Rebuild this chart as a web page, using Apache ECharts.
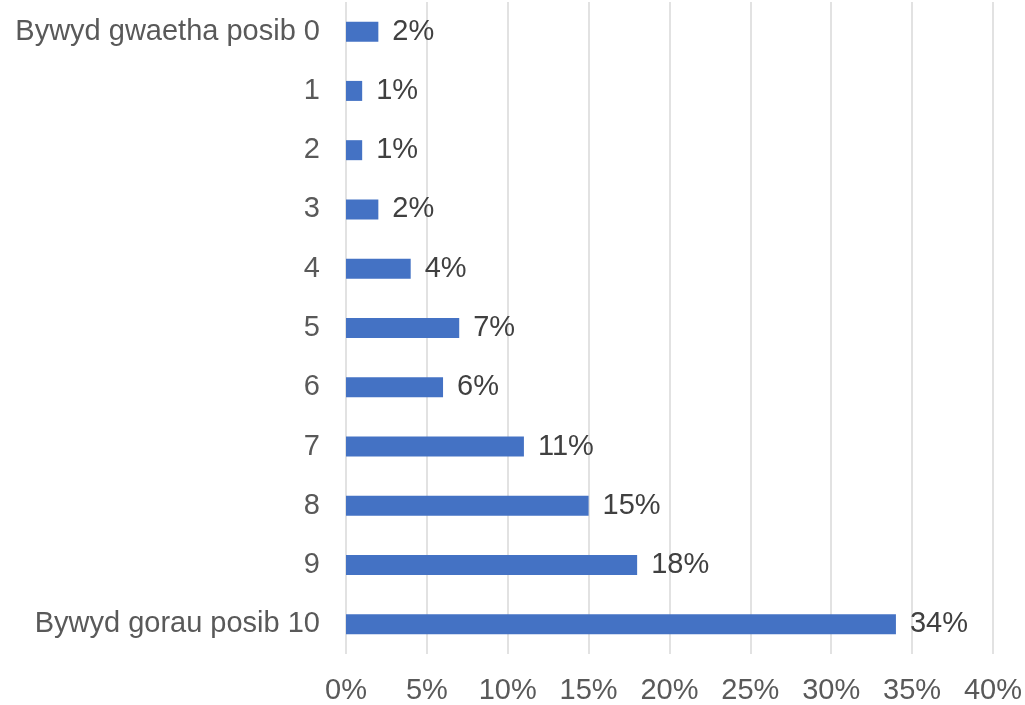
<!DOCTYPE html>
<html>
<head>
<meta charset="utf-8">
<script src="https://cdn.jsdelivr.net/npm/echarts@6/dist/echarts.min.js"></script>
<style>
  html, body { margin: 0; padding: 0; background: #fff; }
  #chart { width: 1025px; height: 705px; }
</style>
</head>
<body>
<div id="chart"></div>
<script>
// categories top to bottom
const categories = ['Bywyd gwaetha posib 0', '1', '2', '3', '4', '5', '6', '7', '8', '9', 'Bywyd gorau posib 10'];
// share of respondents (%)
const values = [2, 1, 1, 2, 4, 7, 6, 11, 15, 18, 34];

const chart = echarts.init(document.getElementById('chart'));

const option = {
  backgroundColor: '#fff',
  textStyle: { fontFamily: 'Liberation Sans, Arial, sans-serif' },
  grid: { left: 346, right: 31, top: 2, bottom: 50, containLabel: false },
  xAxis: {
    type: 'value',
    min: 0,
    max: 40,
    interval: 5,
    axisLine: { show: false },
    axisTick: { show: false },
    axisLabel: { formatter: '{value}%', color: '#595959', fontSize: 29, margin: 22 },
    splitLine: { lineStyle: { color: '#d9d9d9', width: 1.5 } }
  },
  yAxis: {
    type: 'category',
    data: categories,
    inverse: true,
    axisLine: { show: false },
    axisTick: { show: false },
    axisLabel: { color: '#595959', fontSize: 29, margin: 26, padding: [6, 0, 0, 0] }
  },
  series: [{
    type: 'bar',
    data: values,
    barWidth: 20,
    itemStyle: { color: '#4472C4' },
    label: {
      show: true,
      position: 'right',
      distance: 14,
      formatter: '{c}%',
      color: '#404040',
      fontSize: 29,
      padding: [6, 0, 0, 0]
    }
  }]
};

chart.setOption(option);
</script>
</body>
</html>
